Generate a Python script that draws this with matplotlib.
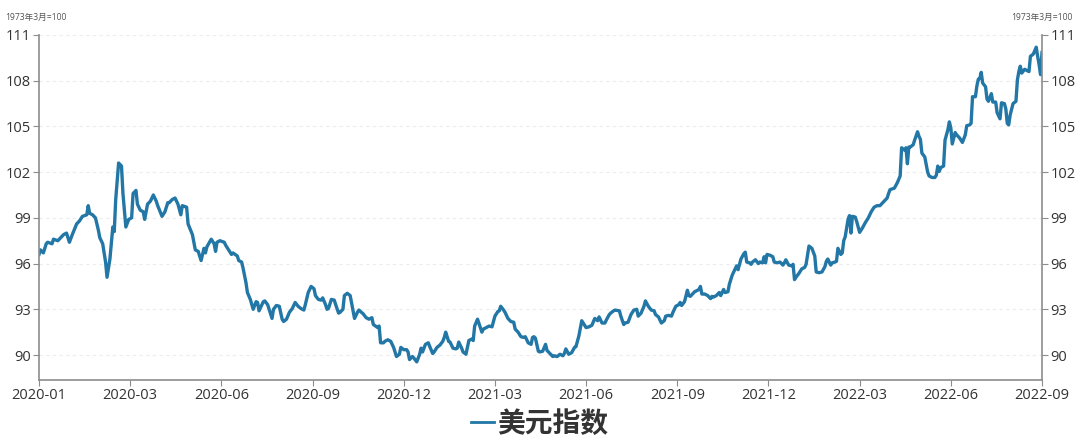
import matplotlib
matplotlib.use("Agg")
import matplotlib.pyplot as plt
from matplotlib.lines import Line2D

plt.rcParams['font.family'] = ['Open Sans', 'Noto Sans CJK SC', 'DejaVu Sans']

# trading-day index of each observation (category axis) and the index value
obs_day = [0, 1, 3, 5, 6, 9, 10, 13, 15, 17, 19, 21, 23, 26, 28, 30, 33, 34, 35, 37,
           39, 41, 42, 44, 46, 47, 49, 51, 52, 53, 55, 57, 58, 60, 62, 64, 65, 67, 68, 70,
           72, 73, 75, 77, 79, 81, 82, 85, 87, 89, 90, 92, 94, 96, 98, 99, 102, 103, 106, 108,
           110, 112, 114,
           115, 116, 119, 121, 122, 123, 125, 128, 129, 131, 133, 134, 137, 138, 140, 141, 143, 144, 146, 148,
           150, 151, 152, 155, 156, 158, 159, 161, 162, 164, 166, 168, 169, 171, 173, 175, 177, 179, 181, 183,
           184, 186, 188, 190, 191, 193, 195, 196, 198, 199, 200, 202, 204, 205, 207, 208, 210, 211, 213, 215,
           217, 218, 220, 221, 224, 226,
           228, 230, 231, 234, 235, 236, 238, 239, 241, 243, 245, 247, 249, 250, 252, 254, 255, 256, 258, 259,
           261, 263, 264, 265, 267, 269, 270, 272, 273, 275, 277, 279, 280, 281, 283, 284, 286, 288, 289, 290,
           292, 293, 295, 297, 299, 300, 301, 303, 306, 307, 309, 311, 313, 315, 317, 318, 319, 321, 322, 324,
           326, 328, 329, 331, 333, 335, 336, 338, 340, 341,
           342, 343, 345, 346, 348, 350, 351, 352, 353, 355, 356, 358, 360, 362, 363, 364, 366, 368, 370, 371,
           373, 375, 377, 378, 380, 382, 384, 386, 387, 389, 391, 392, 394, 395, 397, 398, 401, 402, 404, 405,
           407, 409, 411, 413, 414, 416, 418, 419, 421, 423, 425, 426, 428, 430, 432, 433, 435, 437, 438, 440,
           442, 443, 444, 446, 448, 449, 450, 453, 454, 456,
           457, 458, 460, 462, 464, 465, 466, 468, 470, 471, 473, 474, 476, 477, 479, 480, 482, 483, 485, 487,
           488, 489, 491, 492, 493, 495, 497, 498, 500, 501, 502, 503, 505, 507, 508, 510, 512, 514, 515, 516,
           518, 520, 521, 522, 523, 525, 527, 529, 530, 532, 534, 536, 537, 539, 541, 543, 544, 545, 547, 548,
           550, 551, 552, 554, 555, 556, 557, 559, 560, 561, 562, 564, 565, 567, 569, 571,
           573, 575, 577, 579, 581, 583, 586, 587,
           588, 591, 593, 595, 596, 598, 599, 600, 601, 602, 604, 605, 607, 608, 609, 610, 612, 613, 614, 615,
           617, 619, 620, 621, 622, 623, 625, 626, 628, 629, 630, 631, 633, 634, 636, 638, 640, 641, 643, 644,
           645, 647, 648, 649, 650, 651, 652, 654, 655, 656, 658, 659, 661, 662, 664, 665, 667, 668, 669, 670,
           671, 673, 675, 676, 677, 678, 679, 681, 682, 684, 685, 687, 689, 690, 691, 692, 693]

usd_index = [96.6, 96.9, 96.7, 97.3, 97.4, 97.3, 97.6, 97.5, 97.7, 97.9, 98.0, 97.4, 97.9, 98.6, 98.8, 99.1, 99.2, 99.8, 99.3, 99.2,
             99.0, 98.2, 97.7, 97.3, 96.1, 95.1, 96.3, 98.4, 98.1, 100.2, 102.6, 102.4, 100.6, 98.4, 98.9, 99.0, 100.6, 100.8, 99.9, 99.5,
             99.4, 98.9, 99.9, 100.1, 100.5, 100.1, 99.8, 99.1, 99.4, 100.0, 100.0, 100.2, 100.3, 99.9, 99.2, 99.8, 99.7, 98.6, 97.9, 96.9,
             96.8, 96.2, 97.0,
             96.7, 97.1, 97.6, 97.3, 96.8, 97.4, 97.5, 97.4, 97.2, 96.9, 96.6, 96.7, 96.5, 96.2, 96.1, 95.7, 94.75, 94.1, 93.65, 93.0,
             93.5, 93.45, 92.9, 93.5, 93.55, 93.3, 93.0, 92.4, 93.0, 93.25, 93.2, 92.35, 92.2, 92.35, 92.8, 93.05, 93.45, 93.2, 93.05, 92.95,
             93.3, 94.1, 94.5, 94.35, 93.9, 93.65, 93.6, 93.75, 93.3, 93.0, 93.05, 93.65, 93.6, 93.3, 92.75, 92.8, 93.0, 93.9, 94.05, 93.9,
             92.9, 92.4, 92.8, 92.95, 92.7, 92.45,
             92.35, 92.45, 92.0, 91.8, 91.9, 90.8, 90.8, 90.9, 91.0, 90.9, 90.5, 89.9, 90.05, 90.5, 90.35, 90.35, 90.2, 89.7, 89.9, 89.8,
             89.55, 90.05, 90.45, 90.2, 90.7, 90.8, 90.55, 90.1, 90.2, 90.5, 90.65, 90.9, 91.15, 91.5, 90.9, 90.85, 90.45, 90.4, 90.45, 90.85,
             90.45, 90.2, 90.05, 90.95, 91.05, 90.95, 91.9, 92.35, 91.5, 91.7, 91.8, 91.9, 91.85, 92.55, 92.85, 92.9, 93.2, 92.95, 92.8, 92.4,
             92.2, 92.15, 91.7, 91.5, 91.2, 91.15, 91.2, 90.8, 90.7, 91.15,
             91.2, 91.1, 90.25, 90.2, 90.25, 90.7, 90.3, 90.2, 90.1, 89.9, 89.95, 89.9, 90.05, 89.95, 90.1, 90.4, 90.05, 90.15, 90.5, 90.55,
             91.25, 92.25, 91.95, 91.8, 91.85, 91.95, 92.4, 92.25, 92.5, 92.1, 92.1, 92.3, 92.65, 92.75, 92.9, 92.95, 92.9, 92.55, 92.0, 92.1,
             92.15, 92.65, 92.95, 93.0, 92.55, 92.75, 93.2, 93.55, 93.2, 92.95, 92.9, 92.65, 92.5, 92.1, 92.25, 92.55, 92.6, 92.55, 92.8, 93.2,
             93.3, 93.45, 93.25, 93.5, 94.25, 93.9, 93.85, 94.15, 94.2, 94.3,
             94.5, 94.0, 94.0, 93.9, 93.7, 93.85, 93.8, 93.9, 94.1, 93.9, 94.3, 94.1, 94.15, 94.65, 95.25, 95.45, 95.85, 95.6, 96.3, 96.65,
             96.75, 96.1, 96.05, 95.95, 96.1, 96.25, 96.0, 96.1, 96.05, 96.45, 96.05, 96.6, 96.55, 96.45, 96.1, 96.05, 96.1, 95.9, 96.05, 96.25,
             95.9, 95.85, 95.95, 94.95, 95.1, 95.35, 95.65, 95.75, 95.95, 97.15, 97.0, 96.5, 95.45, 95.4, 95.45, 95.8, 96.15, 96.3, 95.9, 96.05,
             96.1, 96.15, 97.0, 96.6, 96.7, 97.5, 97.75, 98.9, 99.15, 98.0, 99.1, 99.05, 98.75, 98.05, 98.35, 98.7,
             99.0, 99.4, 99.7, 99.8, 99.8, 100.0, 100.3, 100.6,
             100.85, 100.95, 101.3, 101.75, 103.6, 103.45, 103.6, 102.55, 103.65, 103.65, 103.8, 104.1, 104.65, 104.35, 104.15, 103.25, 103.0, 102.5, 102.0, 101.75,
             101.65, 101.65, 101.8, 102.4, 102.05, 102.3, 102.4, 104.1, 104.8, 105.3, 104.9, 103.85, 104.6, 104.45, 104.25, 103.95, 104.45, 105.05, 105.1, 105.2,
             106.95, 106.95, 107.65, 108.1, 108.15, 108.55, 107.85, 107.6, 106.8, 106.65, 107.15, 106.6, 106.6, 105.9, 105.5, 106.55, 106.5, 106.15, 105.2, 105.1,
             105.75, 106.5, 106.65, 108.05, 108.6, 108.95, 108.5, 108.75, 108.7, 108.6, 109.6, 109.75, 110.2, 109.6, 109.05, 108.4, 109.85]

x_tick_labels = ["2020-01", "2020-03", "2020-06", "2020-09", "2020-12", "2021-03",
                 "2021-06", "2021-09", "2021-12", "2022-03", "2022-06", "2022-09"]
y_ticks = [90, 93, 96, 99, 102, 105, 108, 111]
series_name = "美元指数"
unit_label = "1973年3月=100"

LINE_COLOR = "#2277a6"
AXIS_COLOR = "#8c8c8c"
TEXT_COLOR = "#333333"

fig = plt.figure(figsize=(10.8, 4.42), dpi=100)
ax = fig.add_axes([39/1080, 1-380/442, (1042-39)/1080, (380-35)/442])

ax.plot(obs_day, usd_index, color=LINE_COLOR, lw=2.4, solid_joinstyle='round')

n_int = len(x_tick_labels) - 1
x_end = 693
tick_pos = [x_end * i / n_int for i in range(len(x_tick_labels))]
ax.set_xlim(0, x_end)
ax.set_xticks(tick_pos)
ax.set_xticklabels(x_tick_labels, fontsize=10.5, color=TEXT_COLOR)

ax.set_ylim(88.36, 111)
ax.set_yticks(y_ticks)
ax.set_yticklabels([str(v) for v in y_ticks], fontsize=10.5, color=TEXT_COLOR)
ax.tick_params(axis='y', which='both', left=True, right=True, labelleft=True, labelright=True,
               length=4, color=AXIS_COLOR, pad=2)
ax.tick_params(axis='x', length=4, color=AXIS_COLOR, pad=2)

for s in ['left', 'right', 'bottom']:
    ax.spines[s].set_color(AXIS_COLOR)
    ax.spines[s].set_linewidth(1.2)
ax.spines['top'].set_visible(False)

ax.grid(axis='y', color='#ececec', linestyle=(0, (3, 3)), linewidth=0.8)
ax.set_axisbelow(True)

fig.text(5/1080, 1-17/442, unit_label, fontsize=6.2, color='#555555', va='center', ha='left')
fig.text(1073/1080, 1-17/442, unit_label, fontsize=6.2, color='#555555', va='center', ha='right')

handle = Line2D([], [], color=LINE_COLOR, lw=2.0)
leg = fig.legend([handle], [series_name], loc='center', bbox_to_anchor=(540/1080, 1-424/442),
                 frameon=False, handlelength=0.8, handletextpad=0.15,
                 prop={'size': 20, 'weight': 'bold', 'family': ['Noto Sans CJK SC']})
for t in leg.get_texts():
    t.set_color(TEXT_COLOR)

fig.savefig("out.png", dpi=100)
